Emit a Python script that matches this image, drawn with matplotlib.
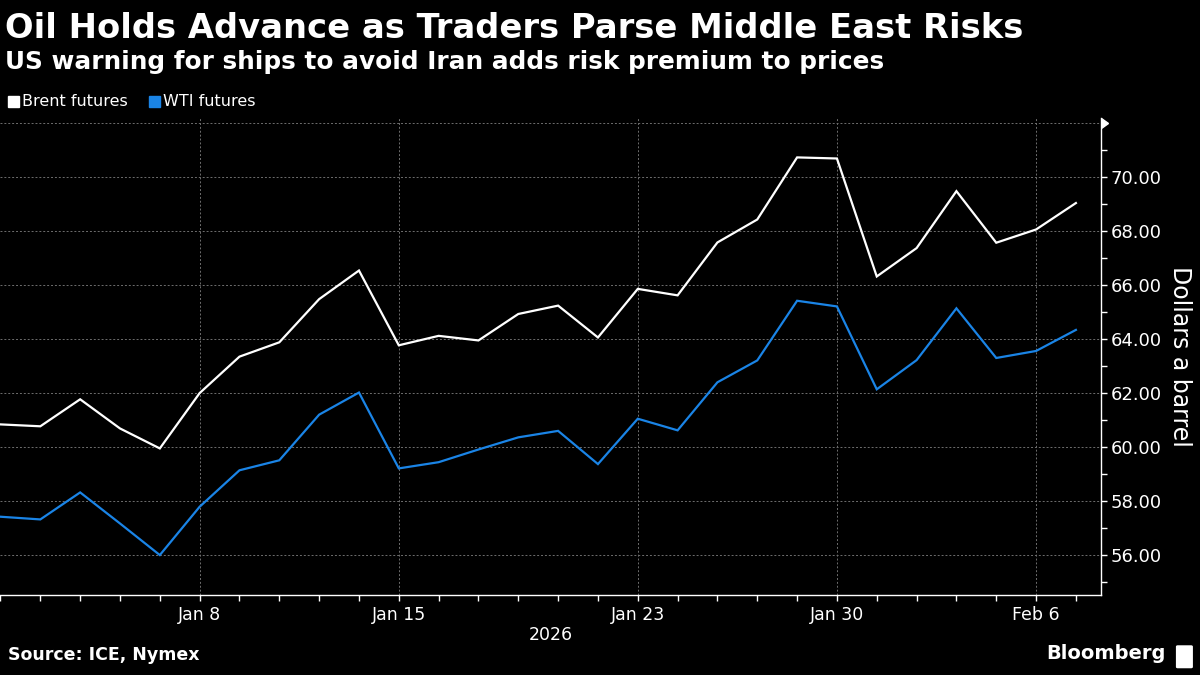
import matplotlib
matplotlib.use("Agg")
import matplotlib.pyplot as plt
import numpy as np
from matplotlib.ticker import FixedLocator, NullFormatter
from matplotlib.patches import FancyBboxPatch

# trading days, Dec 31 2025 .. Feb 9 2026
dates = ["2025-12-31", "2026-01-02", "2026-01-05", "2026-01-06", "2026-01-07",
         "2026-01-08", "2026-01-09", "2026-01-12", "2026-01-13", "2026-01-14",
         "2026-01-15", "2026-01-16", "2026-01-19", "2026-01-20", "2026-01-21",
         "2026-01-22", "2026-01-23", "2026-01-26", "2026-01-27", "2026-01-28",
         "2026-01-29", "2026-01-30", "2026-02-02", "2026-02-03", "2026-02-04",
         "2026-02-05", "2026-02-06", "2026-02-09"]
brent = [60.84, 60.77, 61.77, 60.69, 59.95, 62.00, 63.35, 63.88, 65.48, 66.54,
         63.77, 64.12, 63.95, 64.93, 65.24, 64.06, 65.86, 65.62, 67.58, 68.43,
         70.73, 70.69, 66.32, 67.37, 69.48, 67.57, 68.06, 69.04]
wti = [57.42, 57.32, 58.32, 57.17, 56.00, 57.79, 59.14, 59.51, 61.20, 62.02,
       59.21, 59.44, 59.91, 60.36, 60.60, 59.37, 61.05, 60.62, 62.40, 63.21,
       65.42, 65.21, 62.14, 63.22, 65.14, 63.30, 63.56, 64.34]
label_dates = ["2026-01-08", "2026-01-15", "2026-01-23", "2026-01-30", "2026-02-06"]
label_text = ["Jan 8", "Jan 15", "Jan 23", "Jan 30", "Feb 6"]
y_labels = [56, 58, 60, 62, 64, 66, 68, 70]

bg = "black"
fg = "white"
blue = "#1a84e6"
grid_c = "#6e6e6e"

fig = plt.figure(figsize=(12, 6.75), dpi=100, facecolor=bg)
ax = fig.add_axes([0.0, 0.1185, 0.9175, 0.7067], facecolor=bg)

x = np.arange(len(dates))
ax.plot(x, brent, color=fg, lw=1.6, solid_joinstyle="miter", zorder=3)
ax.plot(x, wti, color=blue, lw=1.6, solid_joinstyle="miter", zorder=3)

ax.set_xlim(-0.0125, 27.63)
ax.set_ylim(54.52, 72.19)

for s in ["left", "top"]:
    ax.spines[s].set_visible(False)
for s in ["right", "bottom"]:
    ax.spines[s].set_color(fg)
    ax.spines[s].set_linewidth(1.0)

# x axis
major_idx = [dates.index(d) for d in label_dates]
ax.xaxis.set_major_locator(FixedLocator(major_idx))
ax.set_xticklabels(label_text)
ax.xaxis.set_minor_locator(FixedLocator(x))
ax.tick_params(axis="x", which="both", direction="out", length=4, width=1,
               color=fg, labelcolor=fg, labelsize=12.5, pad=4)

# y axis on the right
ax.yaxis.tick_right()
ax.yaxis.set_label_position("right")
ax.yaxis.set_major_locator(FixedLocator(y_labels + [72]))
ax.set_yticklabels([f"{v:.2f}" for v in y_labels] + [""])
ax.yaxis.set_minor_locator(FixedLocator(np.arange(55, 72, 2)))
ax.yaxis.set_minor_formatter(NullFormatter())
ax.tick_params(axis="y", which="both", direction="out", length=4, width=1,
               color=fg, labelcolor=fg, labelsize=13, pad=3)
ax.set_ylabel("Dollars a barrel", color=fg, fontsize=17, rotation=270,
              labelpad=22)

# arrow at top of the value axis
ax.plot([1.0], [72], marker=9, markersize=7, color=fg,
        transform=ax.get_yaxis_transform(), clip_on=False, zorder=4)

ax.grid(True, which="major", color=grid_c, lw=0.7, linestyle=(0, (2, 2)))
ax.set_axisbelow(True)

# year label
fig.text(0.4588, 0.06, "2026", color=fg, fontsize=12.5, ha="center",
         va="center")

# titles
fig.text(0.004, 0.9444, "Oil Holds Advance as Traders Parse Middle East Risks",
         color=fg, fontsize=24.3, fontweight="bold", ha="left", va="baseline")
fig.text(0.004, 0.8985, "US warning for ships to avoid Iran adds risk premium to prices",
         color=fg, fontsize=17.8, fontweight="bold", ha="left", va="baseline")

# legend
leg_items = [("Brent futures", fg, 0.007), ("WTI futures", blue, 0.124)]
for name, col, lx in leg_items:
    fig.patches.append(plt.Rectangle((lx, 0.842), 0.009, 0.016, color=col,
                                     transform=fig.transFigure, figure=fig))
    fig.text(lx + 0.0115, 0.85, name, color=fg, fontsize=11.5, ha="left",
             va="center")

# footer
fig.text(0.007, 0.016, "Source: ICE, Nymex", color=fg, fontsize=12.5,
         fontweight="bold", ha="left", va="bottom")
fig.text(0.971, 0.018, "Bloomberg", color=fg, fontsize=14, fontweight="bold",
         ha="right", va="bottom")
fig.patches.append(FancyBboxPatch((0.9815, 0.012), 0.011, 0.03,
                                  boxstyle="round,pad=0.001", color=fg,
                                  transform=fig.transFigure, figure=fig))

fig.savefig("out.png", dpi=100, facecolor=bg)
